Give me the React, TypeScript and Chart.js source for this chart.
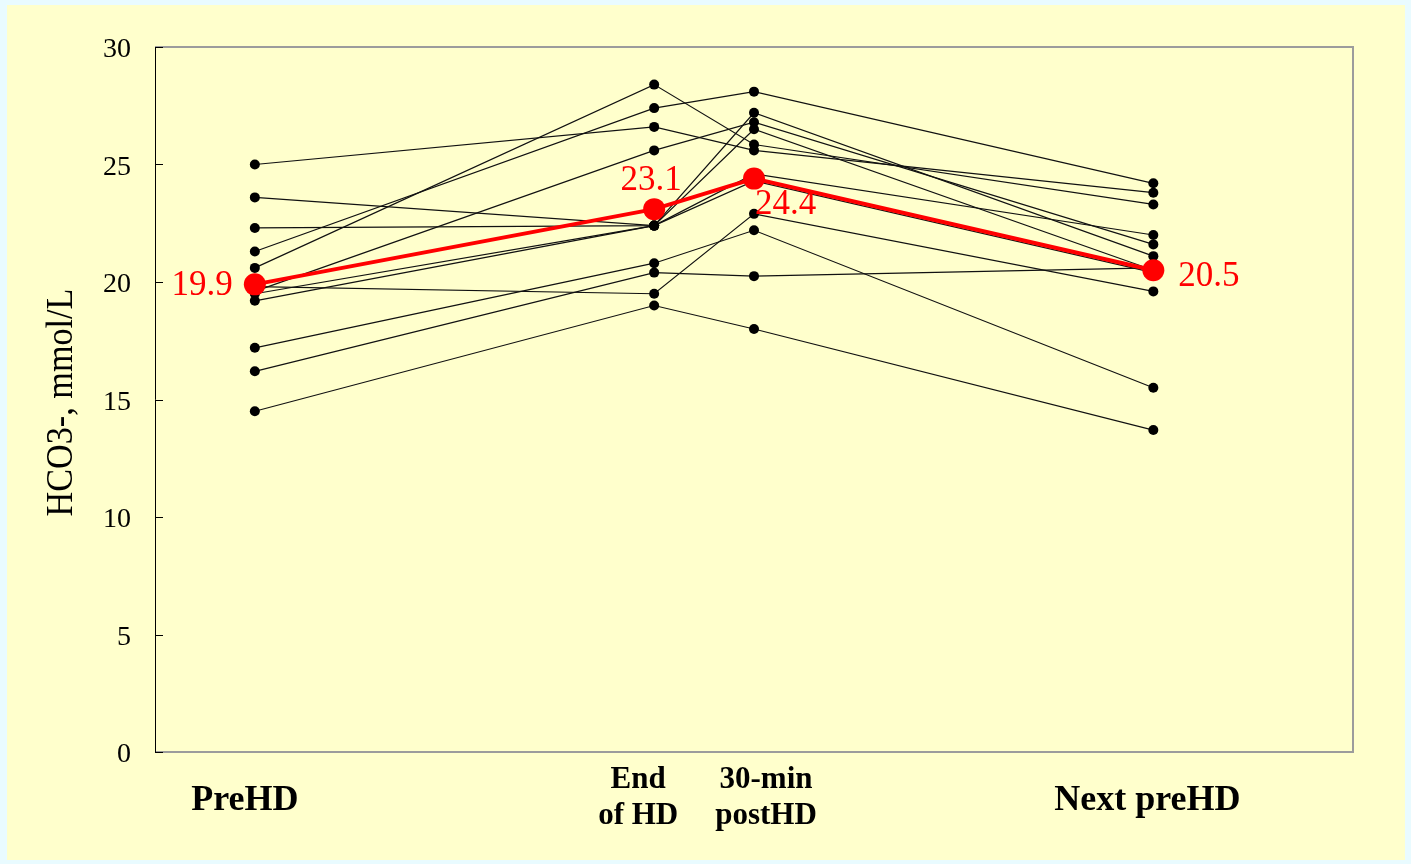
import React, { useEffect, useRef } from "react";
import { Chart, registerables } from "chart.js";

Chart.register(...registerables);

// ---- data ----
const timeX = [1, 5, 6, 10];
const xLabelLines = [["PreHD"], ["End", "of HD"], ["30-min", "postHD"], ["Next preHD"]];
const xLabelAt = [0.9, 4.84, 6.12, 9.94];
const yTickValues = [0, 5, 10, 15, 20, 25, 30];
const yTitle = "HCO3-, mmol/L";

const meanValues = [19.9, 23.1, 24.4, 20.5];
const meanLabels = ["19.9", "23.1", "24.4", "20.5"];

const subject01 = [25.0, 26.6, 25.6, 23.8];
const subject02 = [23.6, 22.4, 27.2, 21.1];
const subject03 = [22.3, 22.4, 26.5, 20.5];
const subject04 = [21.3, 27.4, 28.1, 24.2];
const subject05 = [20.6, 28.4, 25.85, 23.3];
const subject06 = [19.6, 25.6, 26.8, 21.6];
const subject07 = [19.5, 22.4, 24.6, 22.0];
const subject08 = [19.2, 22.4, 24.3, 20.4];
const subject09 = [17.2, 20.8, 22.2, 15.5];
const subject10 = [16.2, 20.4, 20.25, 20.6];
const subject11 = [14.5, 19.0, 18.0, 13.7];
const subject12 = [19.8, 19.5, 22.9, 19.6];

const subjects = [
  subject01, subject02, subject03, subject04, subject05, subject06,
  subject07, subject08, subject09, subject10, subject11, subject12,
];

const SERIF = '"Liberation Serif", "Times New Roman", serif';

function toPoints(vals: number[]) {
  return vals.map((v, i) => ({ x: timeX[i], y: v }));
}

const decorPlugin = {
  id: "decor",
  beforeDatasetsDraw(chart: any) {
    const { ctx, chartArea } = chart;
    const { left, top, right, bottom } = chartArea;
    const ys = chart.scales.y;
    ctx.save();
    // gray frame (top, right, bottom)
    ctx.strokeStyle = "#9c9c9c";
    ctx.lineWidth = 2;
    ctx.beginPath();
    ctx.moveTo(left, top);
    ctx.lineTo(right, top);
    ctx.lineTo(right, bottom);
    ctx.lineTo(left, bottom);
    ctx.stroke();
    // black left axis
    ctx.strokeStyle = "#000";
    ctx.lineWidth = 1;
    ctx.beginPath();
    ctx.moveTo(Math.round(left) + 0.5, top);
    ctx.lineTo(Math.round(left) + 0.5, bottom + 0.5);
    ctx.stroke();
    // inward ticks
    yTickValues.forEach((v) => {
      const py = Math.round(ys.getPixelForValue(v)) + 0.5;
      ctx.beginPath();
      ctx.moveTo(left, py);
      ctx.lineTo(left + 8, py);
      ctx.stroke();
    });
    // tick labels
    ctx.fillStyle = "#000";
    ctx.font = `28px ${SERIF}`;
    ctx.textAlign = "right";
    ctx.textBaseline = "alphabetic";
    yTickValues.forEach((v) => {
      const py = ys.getPixelForValue(v);
      ctx.fillText(String(v), left - 24, py + 10);
    });
    // y title
    ctx.save();
    ctx.translate(72, (top + bottom) / 2 + 3);
    ctx.rotate(-Math.PI / 2);
    ctx.scale(0.9, 1);
    ctx.font = `38px ${SERIF}`;
    ctx.textAlign = "center";
    ctx.fillText(yTitle, 0, 0);
    ctx.restore();
    // x category labels
    const xs = chart.scales.x;
    xLabelLines.forEach((lines, i) => {
      const cx = xs.getPixelForValue(xLabelAt[i]);
      ctx.textAlign = "center";
      if (lines.length === 1) {
        ctx.font = `bold 36px ${SERIF}`;
        ctx.fillText(lines[0], cx, bottom + 58);
      } else {
        ctx.font = `bold 31px ${SERIF}`;
        ctx.fillText(lines[0], cx, bottom + 36);
        ctx.fillText(lines[1], cx, bottom + 72);
      }
    });
    ctx.restore();
  },
  afterDatasetsDraw(chart: any) {
    const { ctx } = chart;
    const xs = chart.scales.x;
    const ys = chart.scales.y;
    ctx.save();
    ctx.fillStyle = "#ff0000";
    ctx.font = `35px ${SERIF}`;
    ctx.textBaseline = "alphabetic";
    const place = [
      { align: "right", dx: -22, dy: 11 },
      { align: "center", dx: -3, dy: -19 },
      { align: "left", dx: 1, dy: 35 },
      { align: "left", dx: 25, dy: 16 },
    ];
    meanValues.forEach((v, i) => {
      const px = xs.getPixelForValue(timeX[i]);
      const py = ys.getPixelForValue(v);
      ctx.textAlign = place[i].align;
      ctx.fillText(meanLabels[i], px + place[i].dx, py + place[i].dy);
    });
    ctx.restore();
  },
};

export default function App() {
  const canvasRef = useRef<HTMLCanvasElement | null>(null);

  useEffect(() => {
    const canvas = canvasRef.current;
    if (!canvas) return;
    const datasets: any[] = [
      {
        label: "Mean",
        data: toPoints(meanValues),
        borderColor: "#ff0000",
        backgroundColor: "#ff0000",
        borderWidth: 4,
        pointRadius: 11,
        pointBackgroundColor: "#ff0000",
        pointBorderWidth: 0,
        order: 0,
      },
      ...subjects.map((s, i) => ({
        label: `S${i + 1}`,
        data: toPoints(s),
        borderColor: "#111",
        backgroundColor: "#000",
        borderWidth: 1.2,
        pointRadius: 5,
        pointBackgroundColor: "#000",
        pointBorderWidth: 0,
        order: 1,
      })),
    ];
    const chart = new Chart(canvas, {
      type: "line",
      data: { datasets },
      options: {
        responsive: false,
        animation: false,
        devicePixelRatio: 1,
        parsing: true,
        layout: { padding: { left: 155, top: 47, right: 58, bottom: 112 } },
        scales: {
          x: { type: "linear", min: 0, max: 12, display: false },
          y: { type: "linear", min: 0, max: 30, display: false },
        },
        plugins: { legend: { display: false }, tooltip: { enabled: false } },
        elements: { line: { tension: 0 } },
      },
      plugins: [decorPlugin],
    } as any);
    return () => chart.destroy();
  }, []);

  return (
    <div style={{ position: "fixed", left: 0, top: 0, width: 1411, height: 864, background: "#e9fbff" }}>
      <div style={{ position: "absolute", left: 7, top: 5, width: 1398, height: 855, background: "#ffffcc" }} />
      <canvas ref={canvasRef} width={1411} height={864} style={{ position: "absolute", left: 0, top: 0, width: 1411, height: 864 }} />
    </div>
  );
}
